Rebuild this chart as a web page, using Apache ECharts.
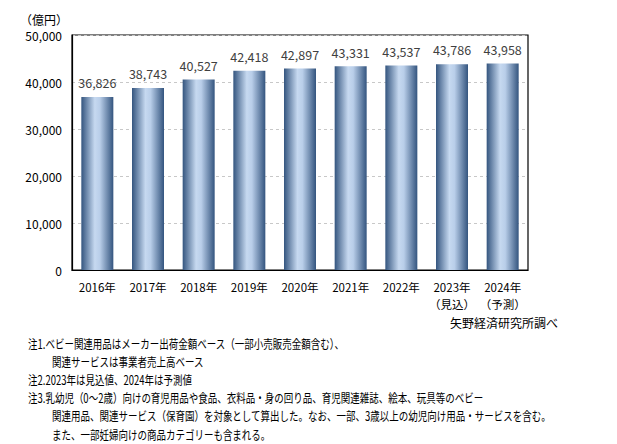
<!DOCTYPE html>
<html>
<head>
<meta charset="utf-8">
<script src="https://cdn.jsdelivr.net/npm/echarts@6/dist/echarts.min.js"></script>
<style>
html,body{margin:0;padding:0;background:#fff;}
#main{width:617px;height:444px;}
</style>
</head>
<body>
<div id="main"></div>
<script>
// データ
var categories = ['2016年', '2017年', '2018年', '2019年', '2020年', '2021年', '2022年', '2023年\n（見込）', '2024年\n（予測）'];
var values = [36826, 38743, 40527, 42418, 42897, 43331, 43537, 43786, 43958];
var yTicks = [0, 10000, 20000, 30000, 40000, 50000];
// 注記（indent: 1 = 字下げ）
var notes = [
    ['注1.ベビー関連用品はメーカー出荷金額ベース（一部小売販売金額含む）、', 0],
    ['関連サービスは事業者売上高ベース', 1],
    ['注2.2023年は見込値、2024年は予測値', 0],
    ['注3.乳幼児（0～2歳）向けの育児用品や食品、衣料品・身の回り品、育児関連雑誌、絵本、玩具等のベビー', 0],
    ['関連用品、関連サービス（保育園）を対象として算出した。なお、一部、3歳以上の幼児向け用品・サービスを含む。', 1],
    ['また、一部妊婦向けの商品カテゴリーも含まれる。', 1]
];

var FONT = '"Noto Sans CJK JP", sans-serif';
var myChart = echarts.init(document.getElementById('main'), null, {renderer: 'svg'});

var noteTexts = notes.map(function (n, i) {
    return {
        type: 'text',
        x: n[1] ? 52 : 28,
        y: 343 + i * 18.2,
        scaleX: 0.76,
        style: {text: n[0], font: '12.5px ' + FONT, fill: '#000', verticalAlign: 'middle'}
    };
});

option = {
    backgroundColor: '#fff',
    animation: false,
    grid: {
        left: 72, right: 89, top: 35, bottom: 174,
        show: true, borderColor: '#000', borderWidth: 1.2
    },
    xAxis: {
        type: 'category',
        data: categories,
        axisLine: {lineStyle: {color: '#000', width: 1.2}},
        axisTick: {show: false},
        axisLabel: {interval: 0, color: '#000', fontFamily: FONT, fontSize: 11.5, margin: 8, lineHeight: 17}
    },
    yAxis: {
        type: 'value',
        min: yTicks[0],
        max: yTicks[yTicks.length - 1],
        interval: 10000,
        axisLine: {show: true, lineStyle: {color: '#000', width: 1.2}},
        axisTick: {show: false},
        axisLabel: {
            color: '#000', fontFamily: FONT, fontSize: 12, margin: 10,
            formatter: function (v) { return v.toLocaleString('en-US'); }
        },
        splitLine: {lineStyle: {color: '#c8c8c8', type: [3, 3]}}
    },
    series: [{
        type: 'bar',
        data: values,
        barWidth: 32,
        itemStyle: {
            color: new echarts.graphic.LinearGradient(0, 0, 1, 0, [
                {offset: 0, color: '#34557f'},
                {offset: 0.42, color: '#c6d9f0'},
                {offset: 0.58, color: '#b9cee9'},
                {offset: 1, color: '#34557f'}
            ])
        },
        label: {
            show: true, position: 'top', distance: 8,
            color: '#404040', fontFamily: FONT, fontSize: 12.5,
            formatter: function (p) { return p.value.toLocaleString('en-US'); }
        }
    }],
    graphic: [
        {type: 'text', left: 20, top: 13, style: {text: '（億円）', font: '12px ' + FONT, fill: '#000'}},
        {type: 'text', x: 450, y: 322, style: {text: '矢野経済研究所調べ', font: '12px ' + FONT, fill: '#000', verticalAlign: 'middle'}}
    ].concat(noteTexts)
};

myChart.setOption(option);
</script>
</body>
</html>
